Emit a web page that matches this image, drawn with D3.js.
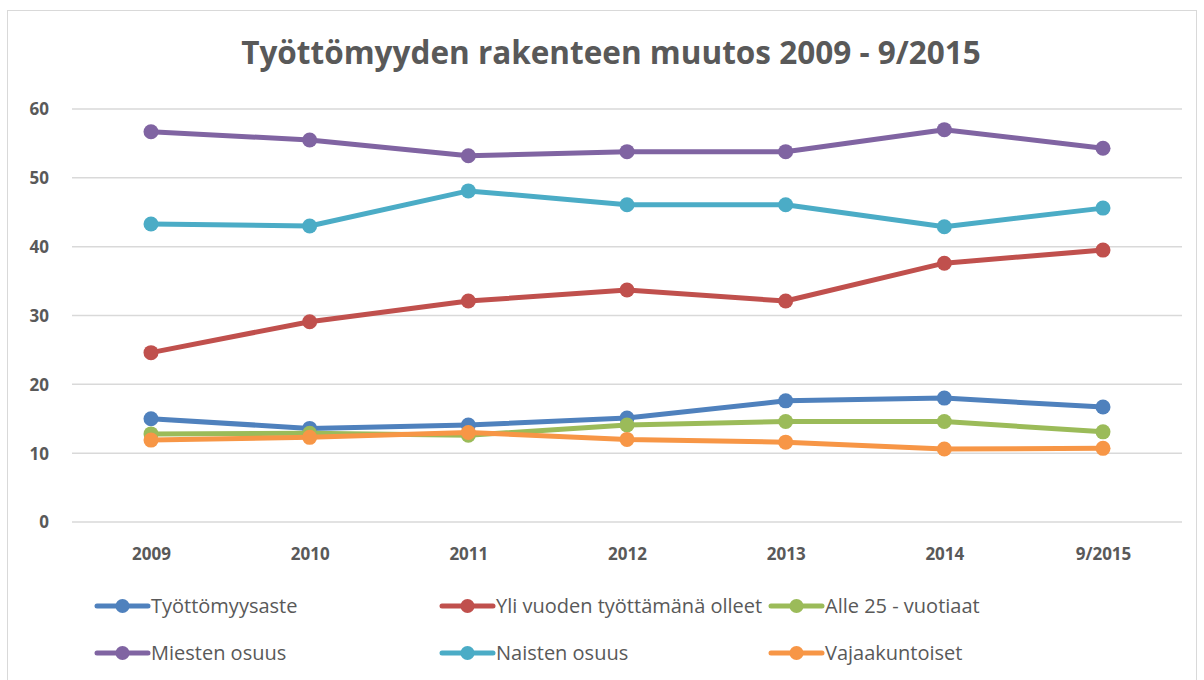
<!DOCTYPE html>
<html>
<head>
  <meta charset="utf-8">
  <title>Työttömyyden rakenne</title>
  <script src="https://d3js.org/d3.v7.min.js"></script>
  <style>
    body { margin: 0; background: #fff; }
    text { font-family: "Open Sans", "Noto Sans", sans-serif; fill: #595959; }
  </style>
</head>
<body>
  <svg id="chart"></svg>

  <script>
    // kategoriat ja sarjat
    var years = ["2009", "2010", "2011", "2012", "2013", "2014", "9/2015"];
    var yTicks = [0, 10, 20, 30, 40, 50, 60];

    var seriesNames = ["Työttömyysaste", "Yli vuoden työttämänä olleet", "Alle 25 - vuotiaat",
                       "Miesten osuus", "Naisten osuus", "Vajaakuntoiset"];
    var seriesColors = ["#4f81bd", "#c0504d", "#9bbb59", "#8064a2", "#4bacc6", "#f79646"];

    var tyottomyysaste = [15.0, 13.6, 14.1, 15.1, 17.6, 18.0, 16.7];
    var yliVuoden      = [24.6, 29.1, 32.1, 33.7, 32.1, 37.6, 39.5];
    var alle25         = [12.8, 12.9, 12.6, 14.1, 14.6, 14.6, 13.1];
    var miesten        = [56.7, 55.5, 53.2, 53.8, 53.8, 57.0, 54.3];
    var naisten        = [43.3, 43.0, 48.1, 46.1, 46.1, 42.9, 45.6];
    var vajaakuntoiset = [11.9, 12.3, 13.0, 12.0, 11.6, 10.6, 10.7];

    var seriesValues = [tyottomyysaste, yliVuoden, alle25, miesten, naisten, vajaakuntoiset];

    var W = 1204, H = 680;
    var svg = d3.select("#chart").attr("width", W).attr("height", H);

    // kehys
    svg.append("rect")
      .attr("x", 7.5).attr("y", 10.5)
      .attr("width", 1189).attr("height", 680)
      .attr("fill", "#fff").attr("stroke", "#d9d9d9").attr("stroke-width", 1);

    svg.append("text")
      .attr("x", 611).attr("y", 64)
      .attr("text-anchor", "middle")
      .style("font-size", "31.5px").style("font-weight", "bold")
      .text("Työttömyyden rakenteen muutos 2009 - 9/2015");

    var x = d3.scalePoint().domain(years).range([151, 1103]);
    var y = d3.scaleLinear().domain([0, 60]).range([522, 109]);

    // ruudukko
    svg.append("g").selectAll("line")
      .data(yTicks)
      .join("line")
      .attr("x1", 72).attr("x2", 1182)
      .attr("y1", function(d) { return y(d); })
      .attr("y2", function(d) { return y(d); })
      .attr("stroke", "#d9d9d9").attr("stroke-width", 1.5);

    var yAxis = svg.append("g")
      .attr("transform", "translate(72,0)")
      .call(d3.axisLeft(y).tickValues(yTicks).tickSize(0).tickPadding(23));
    yAxis.select(".domain").remove();
    yAxis.selectAll("text")
      .style("font-size", "17px").style("font-weight", "bold")
      .attr("fill", "#595959").attr("dy", "0.35em");

    var xAxis = svg.append("g")
      .attr("transform", "translate(0,522)")
      .call(d3.axisBottom(x).tickSize(0).tickPadding(26));
    xAxis.select(".domain").remove();
    xAxis.selectAll("text")
      .style("font-size", "17px").style("font-weight", "bold")
      .attr("fill", "#595959");

    var line = d3.line()
      .x(function(d, i) { return x(years[i]); })
      .y(function(d) { return y(d); });

    seriesValues.forEach(function(vals, s) {
      var g = svg.append("g");
      g.append("path")
        .datum(vals)
        .attr("fill", "none")
        .attr("stroke", seriesColors[s])
        .attr("stroke-width", 5)
        .attr("stroke-linejoin", "round")
        .attr("d", line);
      g.selectAll("circle")
        .data(vals)
        .join("circle")
        .attr("cx", function(d, i) { return x(years[i]); })
        .attr("cy", function(d) { return y(d); })
        .attr("r", 7.5)
        .attr("fill", seriesColors[s]);
    });

    // selite
    var legendX = [97, 442, 771];
    var legendY = [606, 653];
    seriesNames.forEach(function(name, s) {
      var lx = legendX[s % 3], ly = legendY[Math.floor(s / 3)];
      var g = svg.append("g").attr("transform", "translate(" + lx + "," + ly + ")");
      g.append("line")
        .attr("x1", 0).attr("x2", 51).attr("y1", 0).attr("y2", 0)
        .attr("stroke", seriesColors[s]).attr("stroke-width", 5)
        .attr("stroke-linecap", "round");
      g.append("circle").attr("cx", 25.5).attr("cy", 0).attr("r", 7).attr("fill", seriesColors[s]);
      g.append("text")
        .attr("x", 54).attr("y", 0).attr("dy", "0.35em")
        .style("font-size", "20px")
        .text(name);
    });
  </script>
</body>
</html>
